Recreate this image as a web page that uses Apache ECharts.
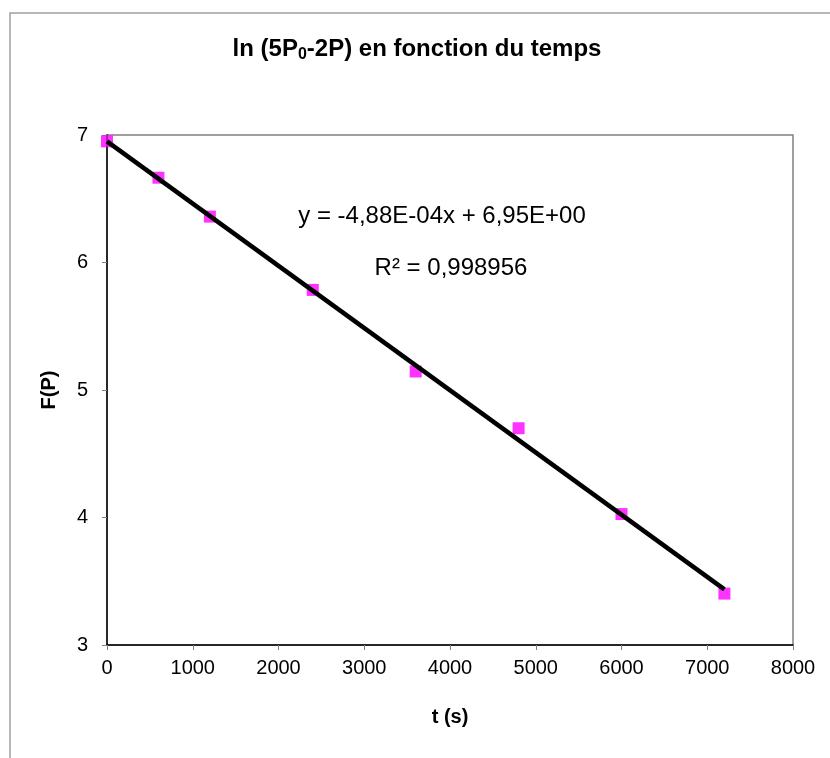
<!DOCTYPE html>
<html>
<head>
<meta charset="utf-8">
<script src="https://cdn.jsdelivr.net/npm/echarts@6/dist/echarts.min.js"></script>
<style>html,body{margin:0;padding:0;background:#fff;}#c{width:830px;height:758px;}</style>
</head>
<body>
<div id="c"></div>
<script>
const timeValues = [0, 600, 1200, 2400, 3600, 4800, 6000, 7200];
const fValues = [6.95, 6.665, 6.36, 5.785, 5.145, 4.70, 4.027, 3.403];
const trendX = [0, 7200];
const trendY = [6.95, 3.436];
const xTicks = [0, 1000, 2000, 3000, 4000, 5000, 6000, 7000, 8000];
const yTicks = [3, 4, 5, 6, 7];
const equationText = 'y = -4,88E-04x + 6,95E+00';
const r2Text = 'R² = 0,998956';

const FONT = '"Liberation Sans", Arial, sans-serif';
const chart = echarts.init(document.getElementById('c'), null, {renderer: 'canvas'});
chart.setOption({
  animation: false,
  backgroundColor: '#fff',
  title: {
    text: '{b|ln (5P}{s|0}{b|-2P) en fonction du temps}',
    left: 412, top: 31, textAlign: 'center',
    textStyle: {
      rich: {
        b: {fontFamily: FONT, fontWeight: 'bold', fontSize: 24, color: '#000'},
        s: {fontFamily: FONT, fontWeight: 'bold', fontSize: 16, color: '#000', verticalAlign: 'bottom', padding: [11, 0, 0, 0]}
      }
    }
  },
  grid: {left: 107, top: 135, right: 37, bottom: 113, show: true, borderColor: '#808080', borderWidth: 1.5, backgroundColor: '#fff'},
  xAxis: {
    type: 'value', min: xTicks[0], max: xTicks[xTicks.length - 1], interval: 1000,
    name: 't (s)', nameLocation: 'middle', nameGap: 62,
    nameTextStyle: {fontFamily: FONT, fontWeight: 'bold', fontSize: 20, color: '#000'},
    axisLine: {lineStyle: {color: '#000', width: 1.5}},
    axisTick: {show: true, length: 5, lineStyle: {color: '#808080'}},
    axisLabel: {fontFamily: FONT, fontSize: 20, color: '#000', margin: 13, formatter: v => String(v)},
    splitLine: {show: false}
  },
  yAxis: {
    type: 'value', min: yTicks[0], max: yTicks[yTicks.length - 1], interval: 1,
    name: 'F(P)', nameLocation: 'middle', nameGap: 48, nameRotate: 90,
    nameTextStyle: {fontFamily: FONT, fontWeight: 'bold', fontSize: 20, color: '#000'},
    axisLine: {show: true, lineStyle: {color: '#000', width: 1.5}},
    axisTick: {show: true, length: 5, lineStyle: {color: '#808080'}},
    axisLabel: {fontFamily: FONT, fontSize: 20, color: '#000', margin: 19},
    splitLine: {show: false}
  },
  series: [
    {
      type: 'scatter', data: timeValues.map((t, i) => [t, fValues[i]]),
      symbol: 'rect', symbolSize: 12, itemStyle: {color: '#ff00ff'}, z: 2
    },
    {
      type: 'line', data: trendX.map((t, i) => [t, trendY[i]]),
      symbol: 'none', lineStyle: {color: '#000', width: 4.5}, z: 3
    }
  ],
  graphic: [
    {type: 'rect', shape: {x: 10, y: 13, width: 1000, height: 1000}, style: {fill: null, stroke: '#a0a0a0', lineWidth: 1.5}, z: -10},
    {type: 'text', x: 442, y: 216, style: {text: equationText, font: '24px ' + FONT, fill: '#000', textAlign: 'center', textVerticalAlign: 'middle'}, z: 10},
    {type: 'text', x: 451, y: 268, style: {text: r2Text, font: '24px ' + FONT, fill: '#000', textAlign: 'center', textVerticalAlign: 'middle'}, z: 10}
  ]
});
</script>
</body>
</html>
